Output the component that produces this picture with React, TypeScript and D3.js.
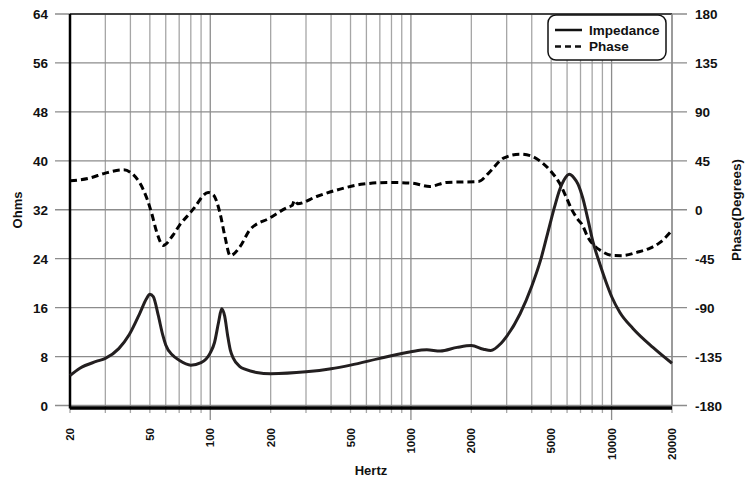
import * as d3 from "d3";

// impedance curve, Hz / ohms
const impFreq = [20, 22.4, 27, 30, 35, 39.5, 44.6, 48, 50, 52, 55, 58, 60, 65, 70, 80, 90, 100, 105, 110, 114, 118, 122, 126, 130, 140, 150, 170, 200, 300, 400, 500, 700, 1000, 1200, 1400, 1700, 2000, 2300, 2500, 2800, 3000, 3500, 4000, 4430, 4900, 5200, 5500, 5800, 6150, 6500, 6800, 7200, 7600, 8070, 8750, 9380, 10040, 11000, 12770, 16070, 20000];
const impOhms = [4.9, 6.1, 7.2, 7.7, 9.3, 11.6, 15.1, 17.4, 18.2, 17.8, 14.8, 11.5, 9.9, 8.2, 7.4, 6.6, 7.0, 8.6, 10.3, 13.6, 15.8, 14.6, 11.5, 9.0, 7.8, 6.4, 5.9, 5.4, 5.2, 5.5, 6.0, 6.6, 7.7, 8.8, 9.1, 8.9, 9.5, 9.8, 9.2, 9.0, 10.1, 11.3, 15.0, 19.5, 23.8, 29.3, 32.5, 35.2, 36.9, 37.8, 37.2, 36.2, 33.8, 30.6, 26.8, 23.1, 20.2, 17.7, 15.2, 12.6, 9.5, 6.9];

// phase curve, Hz / degrees
const phFreq = [20, 25, 30, 37, 40.5, 44.6, 48.6, 51, 54.3, 58.2, 65.4, 70.5, 79.3, 83, 97.6, 103.6, 111.8, 118.3, 125.7, 141, 157.5, 197.5, 244, 256, 263, 272, 339, 444, 578, 784, 1004, 1241, 1505, 2171, 2440, 2895, 3502, 3940, 4430, 4993, 5500, 5970, 6300, 6800, 7150, 7600, 8200, 8800, 10100, 11300, 13350, 15580, 17450, 20000];
const phDeg = [26.6, 29.1, 33.7, 36.7, 33.7, 24.5, 9.2, -3, -21.4, -32.8, -23, -13.8, -3, 1.5, 15.9, 13.8, -3, -24.5, -42.2, -33.7, -18.4, -7.7, 2.4, 4, 8.6, 5.5, 12.2, 19, 23.6, 25.1, 24.5, 21.4, 25.1, 26, 33.7, 47.5, 51.1, 49.7, 44.4, 35.2, 24.5, 10.7, 1, -9, -14, -25, -33, -37.4, -42, -42.2, -39.2, -35.2, -30, -19];

const ohmTicks = [0, 8, 16, 24, 32, 40, 48, 56, 64];
const degTicks = [-180, -135, -90, -45, 0, 45, 90, 135, 180];
const hzLabels = [20, 50, 100, 200, 500, 1000, 2000, 5000, 10000, 20000];
const hzGrid = [20, 30, 40, 50, 60, 70, 80, 90, 100, 200, 300, 400, 500, 600, 700, 800, 900, 1000, 2000, 3000, 4000, 5000, 6000, 7000, 8000, 9000, 10000, 20000];
const decades = [100, 1000, 10000];

const W = 753;
const H = 482;
const L = 70, R = 672, T = 14, B = 405.5;
const font = "'Liberation Sans', Arial, sans-serif";

export default function App() {
  const x = d3.scaleLog().domain([20, 20000]).range([L, R]);
  const yO = d3.scaleLinear().domain([0, 64]).range([B, T]);
  const yP = d3.scaleLinear().domain([-180, 180]).range([B, T]);

  const impLine = d3
    .line<number>()
    .x((_, i) => x(impFreq[i]))
    .y(d => yO(d))
    .curve(d3.curveMonotoneX);
  const phLine = d3
    .line<number>()
    .x((_, i) => x(phFreq[i]))
    .y(d => yP(d))
    .curve(d3.curveMonotoneX);

  return (
    <svg width={W} height={H} style={{ position: "absolute", left: 0, top: 0, background: "#fff" }} fontFamily={font} fontWeight="bold">
      {/* vertical grid + bottom ticks */}
      {hzGrid.map(f => (
        <line key={"v" + f} x1={x(f)} x2={x(f)} y1={T} y2={decades.includes(f) ? 420 : 413} stroke={decades.includes(f) ? "#8c8c8c" : "#a6a6a6"} strokeWidth={1.3} />
      ))}
      {/* horizontal grid + left/right ticks */}
      {ohmTicks.map(v => (
        <line key={"h" + v} x1={55} x2={687} y1={yO(v)} y2={yO(v)} stroke="#8c8c8c" strokeWidth={1.3} />
      ))}
      <line x1={L} x2={R} y1={T} y2={T} stroke="#222" strokeWidth={1.5} />
      <line x1={R} x2={R} y1={T} y2={B} stroke="#8c8c8c" strokeWidth={1.5} />
      <line x1={L} x2={L} y1={T} y2={B + 3} stroke="#000" strokeWidth={2.5} />
      <line x1={L} x2={R} y1={B + 2.5} y2={B + 2.5} stroke="#000" strokeWidth={3.5} />

      <path d={phLine(phDeg) ?? ""} fill="none" stroke="#000" strokeWidth={3} strokeDasharray="7,4" />
      <path d={impLine(impOhms) ?? ""} fill="none" stroke="#231f20" strokeWidth={3} />

      {/* left labels */}
      {ohmTicks.map(v => (
        <text key={"lo" + v} x={48} y={yO(v) + 5} textAnchor="end" fontSize={13.5} fill="#111">{v}</text>
      ))}
      {degTicks.map(v => (
        <text key={"rd" + v} x={695} y={yP(v) + 5} textAnchor="start" fontSize={13.5} fill="#111">{v}</text>
      ))}
      {hzLabels.map(f => (
        <text key={"hz" + f} transform={`translate(${x(f) + 4},428) rotate(-90)`} textAnchor="end" fontSize={11.5} fill="#111">{f}</text>
      ))}

      <text transform={`translate(22,210) rotate(-90)`} textAnchor="middle" fontSize={13} fill="#111">Ohms</text>
      <text transform={`translate(741,210) rotate(-90)`} textAnchor="middle" fontSize={13.5} fill="#111">Phase(Degrees)</text>
      <text x={371} y={475} textAnchor="middle" fontSize={13} fill="#111">Hertz</text>

      {/* legend */}
      <rect x={548} y={15} width={118} height={45} rx={8} fill="#fff" stroke="#111" strokeWidth={1.5} />
      <line x1={555} x2={582} y1={30} y2={30} stroke="#111" strokeWidth={2.5} />
      <text x={589} y={34.5} fontSize={13.5} fill="#111">Impedance</text>
      <line x1={555} x2={582} y1={46.5} y2={46.5} stroke="#111" strokeWidth={2.5} strokeDasharray="6,4" />
      <text x={589} y={51} fontSize={13.5} fill="#111">Phase</text>
    </svg>
  );
}
